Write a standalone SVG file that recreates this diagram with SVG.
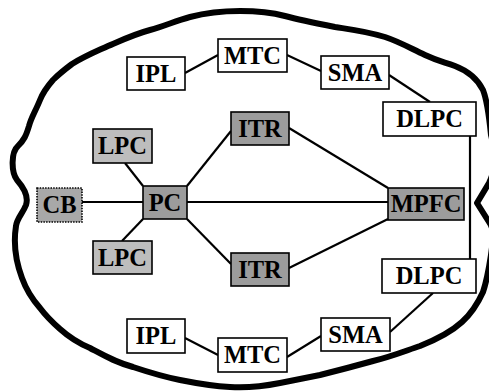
<svg xmlns="http://www.w3.org/2000/svg" width="489" height="392" viewBox="0 0 489 392">
<style>
.b{stroke:#000;stroke-width:1.6}
.w{fill:#fff}
.d{fill:#9c9c9c}
.l{fill:#bdbdbd}
.c{fill:#a8a8a8;stroke-dasharray:1.5 1.2}
text{font-family:"Liberation Serif","Times New Roman",serif;font-weight:bold;font-size:24.5px;text-anchor:middle;fill:#000}
.e{fill:none;stroke:#000;stroke-width:2.2}
.o{fill:none;stroke:#000;stroke-width:6;stroke-linejoin:round;stroke-linecap:round}
</style>
<path class="o" d="M53,80 C46,88 42,95 40,100 C36,110 31,118 29,126 C26,136 24,140 18,146 C11,152 11,172 17,180 C24,188 29,196 26,205 C23,213 17,218 16,226 C13,245 16,262 22,278 C27,292 33,300 40,308 C46,316 52,322 60,329 C70,338 78,343 90,348 C105,356 115,362 133,367 C148,372 160,376 180,380 C195,383 210,386 230,387 C245,388 260,387 280,383 C295,380 305,378 320,375 C340,370 355,366 373,361 C390,357 405,351 420,346 C435,340 450,333 462,322 C472,313 478,303 483,292 C487,280 489,268 491,255 C493,240 495,230 489,222 L477,203 L489,183 C496,170 495,150 491,135 C489,115 487,100 483,90 C477,78 468,71 455,66 C445,62 440,62 425,55 C410,48 400,42 385,37 C365,31 355,30 335,27 C315,23 300,20 285,16 C270,12 260,11 240,11 C220,11 205,13 190,17 C175,21 165,26 150,30 C135,34 122,40 108,46 C95,52 85,56 72,64 C64,70 58,75 53,80 Z"/>
<g id="connectors">
<line class="e" x1="185" y1="73" x2="218" y2="55"/>
<line class="e" x1="287" y1="55" x2="321" y2="71"/>
<line class="e" x1="389" y1="75" x2="430" y2="102"/>
<line class="e" x1="470" y1="136" x2="470" y2="259"/>
<line class="e" x1="125" y1="163" x2="143" y2="186"/>
<line class="e" x1="187" y1="186" x2="231" y2="131"/>
<line class="e" x1="289" y1="128" x2="388" y2="188"/>
<line class="e" x1="82" y1="202" x2="143" y2="202"/>
<line class="e" x1="187" y1="202" x2="388" y2="202"/>
<line class="e" x1="143" y1="219" x2="122" y2="241"/>
<line class="e" x1="187" y1="219" x2="231" y2="264"/>
<line class="e" x1="388" y1="219" x2="289" y2="268"/>
<line class="e" x1="433" y1="293" x2="390" y2="332"/>
<line class="e" x1="185" y1="338" x2="218" y2="355"/>
<line class="e" x1="287" y1="357" x2="321" y2="336"/>
</g>
<g id="ipl-top"><rect class="b w" x="127" y="57" width="58" height="33"/><text x="156" y="82">IPL</text></g>
<g id="mtc-top"><rect class="b w" x="218" y="39" width="69" height="33"/><text x="252.5" y="64">MTC</text></g>
<g id="sma-top"><rect class="b w" x="321" y="56" width="68" height="33"/><text x="355" y="81">SMA</text></g>
<g id="dlpc-top"><rect class="b w" x="383" y="102" width="93" height="34"/><text x="429.5" y="127">DLPC</text></g>
<g id="itr-top"><rect class="b d" x="231" y="112" width="58" height="33"/><text x="260" y="137">ITR</text></g>
<g id="lpc-top"><rect class="b l" x="93" y="129" width="59" height="34"/><text x="122.5" y="154">LPC</text></g>
<g id="cb"><rect class="b c" x="37" y="188" width="45" height="34"/><text x="59.5" y="213">CB</text></g>
<g id="pc"><rect class="b d" x="143" y="186" width="44" height="33"/><text x="165" y="211">PC</text></g>
<g id="mpfc"><rect class="b d" x="388" y="188" width="76" height="32"/><text x="426" y="212">MPFC</text></g>
<g id="lpc-bottom"><rect class="b l" x="93" y="241" width="59" height="33"/><text x="122.5" y="266">LPC</text></g>
<g id="itr-bottom"><rect class="b d" x="231" y="253" width="58" height="33"/><text x="260" y="278">ITR</text></g>
<g id="dlpc-bottom"><rect class="b w" x="382" y="259" width="94" height="34"/><text x="429" y="284">DLPC</text></g>
<g id="ipl-bottom"><rect class="b w" x="127" y="319" width="58" height="34"/><text x="156" y="344">IPL</text></g>
<g id="mtc-bottom"><rect class="b w" x="218" y="338" width="69" height="34"/><text x="252.5" y="363">MTC</text></g>
<g id="sma-bottom"><rect class="b w" x="321" y="318" width="69" height="33"/><text x="355.5" y="343">SMA</text></g>
</svg>
